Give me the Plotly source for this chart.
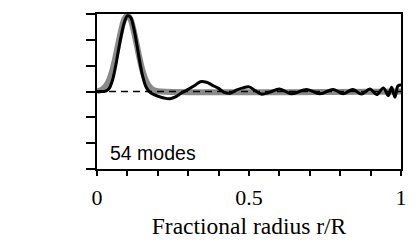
import plotly.graph_objects as go

# gray reference profile
ref_x = [0.00, 0.01, 0.02, 0.03, 0.04, 0.05, 0.06, 0.07, 0.08, 0.09, 0.10,
         0.11, 0.12, 0.13, 0.14, 0.15, 0.16, 0.17, 0.18, 0.19, 0.20, 1.00]
ref_y = [0.01, 0.04, 0.10, 0.23, 0.45, 0.80, 1.28, 1.85, 2.39, 2.80, 2.95,
         2.80, 2.39, 1.85, 1.28, 0.80, 0.45, 0.23, 0.10, 0.04, 0.01, 0.00]

# black reconstruction, 54 modes
rec_x = [0.00, 0.02, 0.03, 0.04, 0.05, 0.06, 0.07, 0.08, 0.09, 0.10, 0.11,
         0.12, 0.13, 0.14, 0.15, 0.16, 0.17, 0.18, 0.20, 0.22, 0.24, 0.26,
         0.28, 0.30, 0.32, 0.34, 0.36, 0.38, 0.40, 0.42, 0.44, 0.46, 0.48,
         0.50, 0.52, 0.54, 0.57, 0.60, 0.64, 0.69, 0.733, 0.777, 0.81, 0.842,
         0.87, 0.898, 0.92, 0.942, 0.958, 0.969, 0.98, 0.99, 1.00]
rec_y = [0.00, 0.00, 0.02, 0.12, 0.40, 0.90, 1.56, 2.18, 2.68, 2.93, 2.88,
         2.50, 1.90, 1.20, 0.60, 0.21, 0.02, -0.08, -0.18, -0.25, -0.28, -0.20,
         -0.04, 0.08, 0.22, 0.38, 0.36, 0.24, 0.12, -0.04, -0.06, 0.06, 0.14,
         0.18, 0.04, -0.10, -0.02, 0.10, -0.09, 0.08, -0.09, 0.08, -0.09, 0.08,
         -0.10, 0.10, -0.12, 0.14, -0.16, 0.16, -0.22, 0.22, 0.25]

x_ticks = [0, 0.1, 0.2, 0.3, 0.4, 0.5, 0.6, 0.7, 0.8, 0.9, 1]
x_labels = ["0", "", "", "", "", "0.5", "", "", "", "", "1"]
y_ticks = [-3, -2, -1, 0, 1, 2, 3]

fig = go.Figure()
fig.add_trace(go.Scatter(x=ref_x, y=ref_y, mode="lines",
                         line=dict(color="#8a8a8a", width=6, shape="spline")))
fig.add_trace(go.Scatter(x=[0, 1], y=[0, 0], mode="lines",
                         line=dict(color="black", width=1.7, dash="7px,5px")))
fig.add_trace(go.Scatter(x=rec_x, y=rec_y, mode="lines",
                         line=dict(color="black", width=3, shape="spline")))

fig.add_annotation(text="54 modes", x=0.035, y=-2.38, xref="x", yref="y",
                   xanchor="left", yanchor="middle", showarrow=False,
                   font=dict(family="Liberation Sans", size=19.5, color="black"))

fig.update_xaxes(range=[0, 1], tickvals=x_ticks, ticktext=x_labels,
                 ticks="outside", ticklen=5, tickwidth=2, tickcolor="black",
                 ticklabelstandoff=3,
                 showline=True, linecolor="black", linewidth=2, mirror=True,
                 showgrid=False, zeroline=False,
                 tickfont=dict(family="Liberation Serif", size=22, color="black"),
                 title=dict(text="Fractional radius r/R", standoff=8,
                            font=dict(family="Liberation Serif", size=23.5, color="black")))
fig.update_yaxes(range=[-3, 3], tickvals=y_ticks, showticklabels=False,
                 ticks="outside", ticklen=9, tickwidth=2, tickcolor="black",
                 showline=True, linecolor="black", linewidth=2, mirror=True,
                 showgrid=False, zeroline=False)

# the page body adds an 8px offset, so the figure is sized to fit inside it
fig.update_layout(width=407, height=240, showlegend=False,
                  margin=dict(l=89, r=14, t=6, b=79, autoexpand=False),
                  plot_bgcolor="white", paper_bgcolor="white")

fig.write_html("out.html")
